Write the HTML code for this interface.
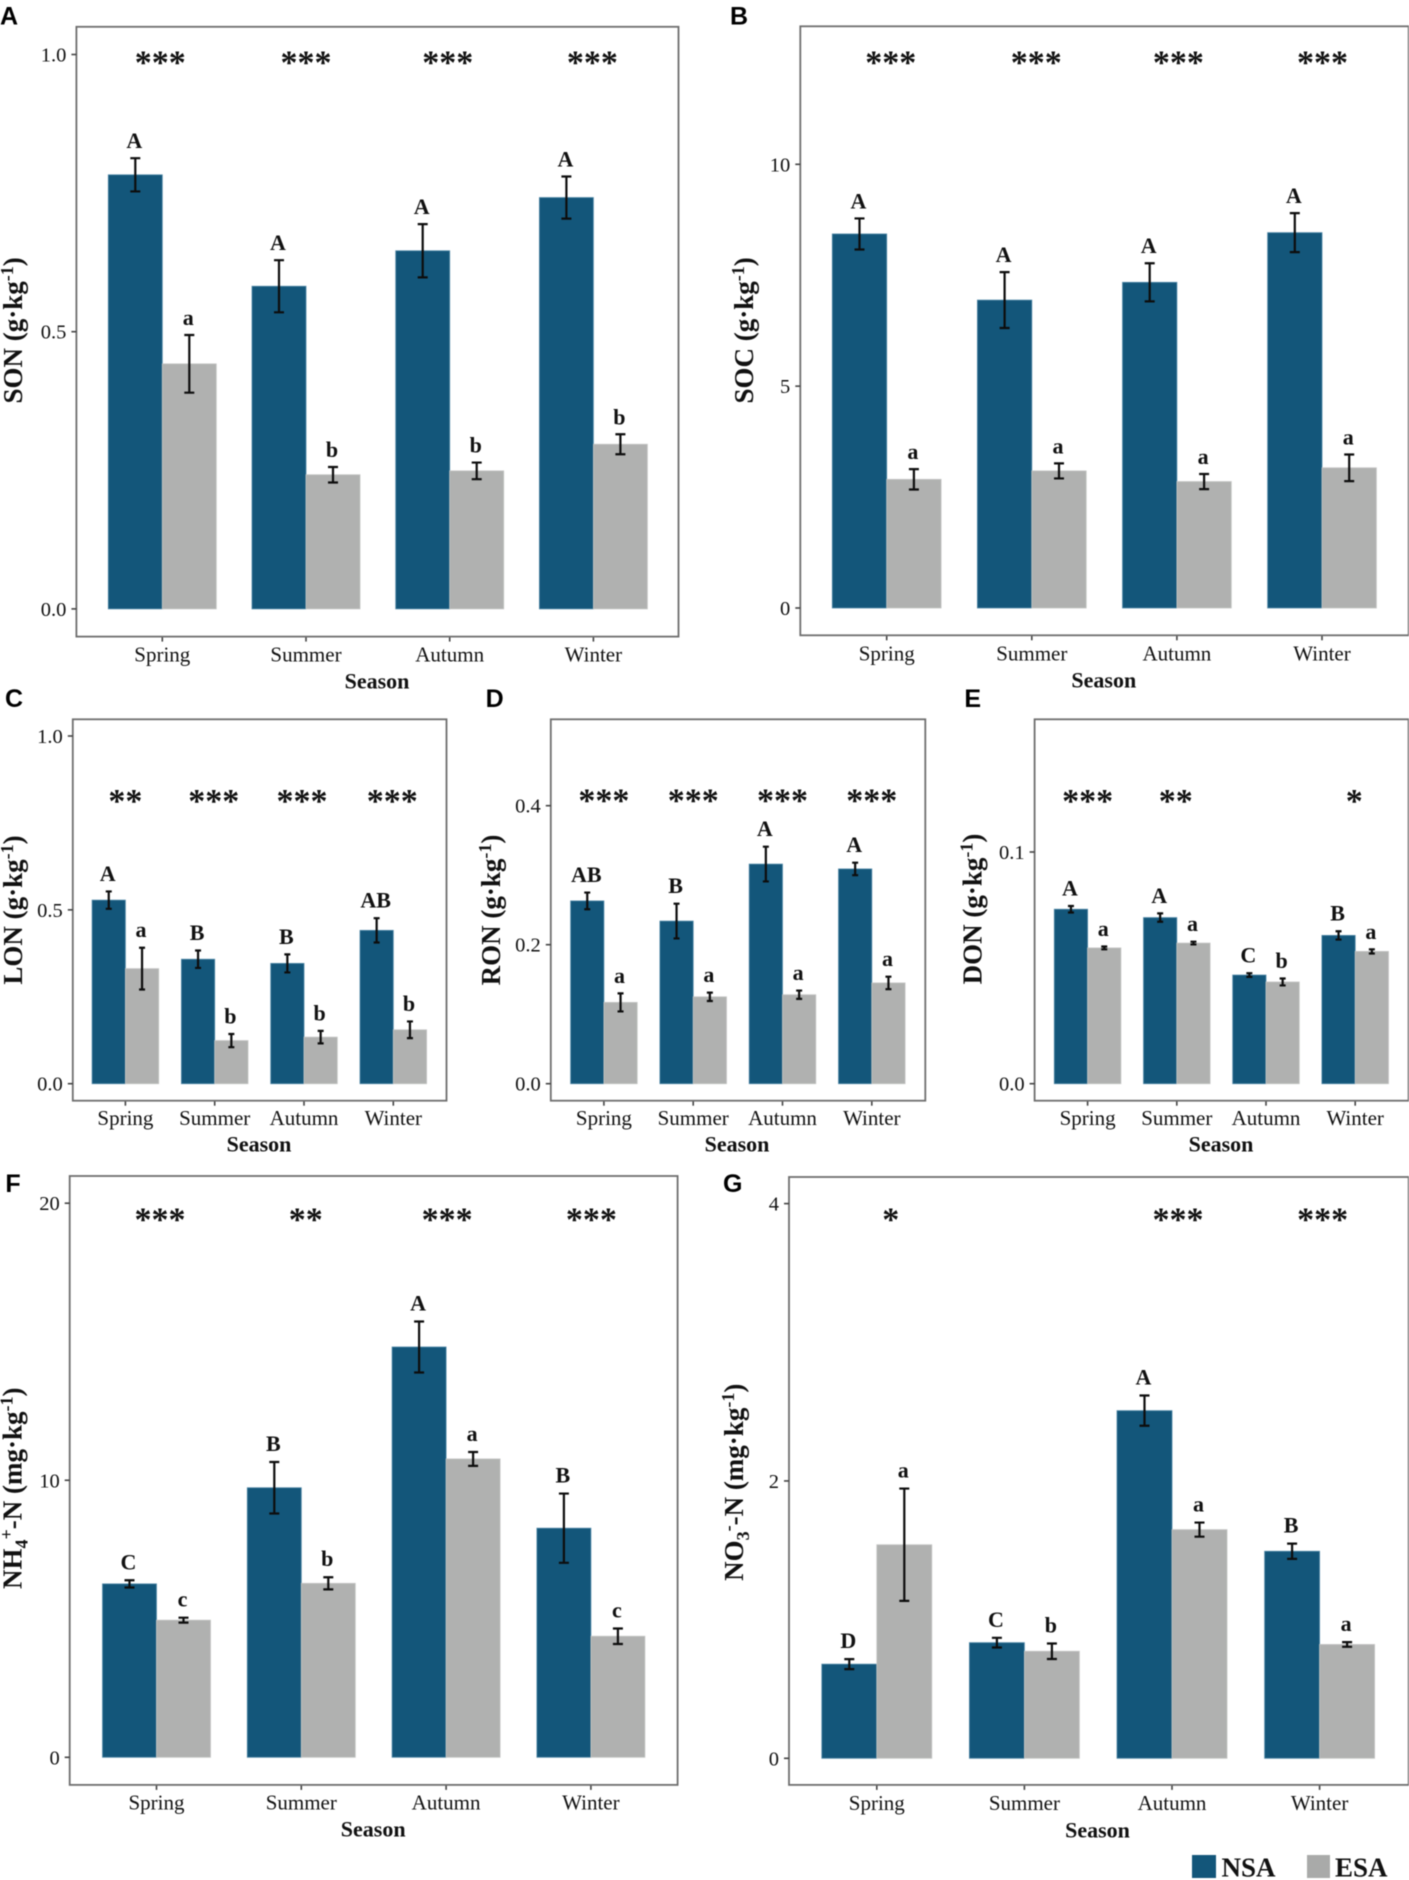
<!DOCTYPE html>
<html lang="en">
<head>
<meta charset="utf-8">
<title>Soil nitrogen and carbon by season</title>
<style>
html,body{margin:0;padding:0;background:#fff;}
body{width:1409px;height:1880px;overflow:hidden;}
svg{display:block;filter:blur(0.45px);}
text{font-family:"Liberation Serif",serif;fill:#111;}
.tag{font-family:"Liberation Sans",sans-serif;font-weight:700;font-size:25px;fill:#000;}
</style>
</head>
<body>
<svg id="figure" xmlns="http://www.w3.org/2000/svg" width="1409" height="1880" viewBox="0 0 1409 1880">
  <g id="panels"></g>
  <g>
    <rect x="1192" y="1855" width="24" height="23" fill="#13567a"/>
    <text x="1221.5" y="1876.5" font-size="27" font-weight="700">NSA</text>
    <rect x="1307" y="1855" width="23" height="23" fill="#a9aaa9"/>
    <text x="1335" y="1876.5" font-size="27" font-weight="700">ESA</text>
  </g>
</svg>
<script>
const categories = ['Spring', 'Summer', 'Autumn', 'Winter'];

const sonTicks = [0, 0.5, 1.0];
const sonTickLabels = ['0.0', '0.5', '1.0'];
const sonNSA = [0.783, 0.582, 0.646, 0.742];
const sonESA = [0.442, 0.242, 0.249, 0.297];
const sonNSAErr = [0.030, 0.047, 0.048, 0.038];
const sonESAErr = [0.052, 0.014, 0.015, 0.018];
const sonNSALetters = ['A', 'A', 'A', 'A'];
const sonESALetters = ['a', 'b', 'b', 'b'];
const sonStars = ['***', '***', '***', '***'];

const socTicks = [0, 5, 10];
const socTickLabels = ['0', '5', '10'];
const socNSA = [8.43, 6.94, 7.34, 8.46];
const socESA = [2.90, 3.09, 2.85, 3.16];
const socNSAErr = [0.35, 0.63, 0.43, 0.44];
const socESAErr = [0.23, 0.17, 0.17, 0.30];
const socNSALetters = ['A', 'A', 'A', 'A'];
const socESALetters = ['a', 'a', 'a', 'a'];
const socStars = ['***', '***', '***', '***'];

const lonTicks = [0, 0.5, 1.0];
const lonTickLabels = ['0.0', '0.5', '1.0'];
const lonNSA = [0.528, 0.358, 0.346, 0.441];
const lonESA = [0.331, 0.124, 0.134, 0.155];
const lonNSAErr = [0.025, 0.025, 0.026, 0.035];
const lonESAErr = [0.060, 0.019, 0.018, 0.024];
const lonNSALetters = ['A', 'B', 'B', 'AB'];
const lonESALetters = ['a', 'b', 'b', 'b'];
const lonStars = ['**', '***', '***', '***'];

const ronTicks = [0, 0.2, 0.4];
const ronTickLabels = ['0.0', '0.2', '0.4'];
const ronNSA = [0.263, 0.234, 0.316, 0.309];
const ronESA = [0.117, 0.125, 0.128, 0.145];
const ronNSAErr = [0.012, 0.025, 0.025, 0.009];
const ronESAErr = [0.013, 0.006, 0.006, 0.009];
const ronNSALetters = ['AB', 'B', 'A', 'A'];
const ronESALetters = ['a', 'a', 'a', 'a'];
const ronStars = ['***', '***', '***', '***'];

const donTicks = [0, 0.1];
const donTickLabels = ['0.0', '0.1'];
const donNSA = [0.0753, 0.0717, 0.0469, 0.0640];
const donESA = [0.0586, 0.0607, 0.0439, 0.0571];
const donNSAErr = [0.0014, 0.0018, 0.0008, 0.0018];
const donESAErr = [0.0006, 0.0006, 0.0015, 0.0009];
const donNSALetters = ['A', 'A', 'C', 'B'];
const donESALetters = ['a', 'a', 'b', 'a'];
const donStars = ['***', '**', '', '*'];

const nhTicks = [0, 10, 20];
const nhTickLabels = ['0', '10', '20'];
const nhNSA = [6.26, 9.73, 14.81, 8.27];
const nhESA = [4.95, 6.28, 10.77, 4.37];
const nhNSAErr = [0.13, 0.93, 0.92, 1.25];
const nhESAErr = [0.09, 0.22, 0.25, 0.28];
const nhNSALetters = ['C', 'B', 'A', 'B'];
const nhESALetters = ['c', 'b', 'a', 'c'];
const nhStars = ['***', '**', '***', '***'];

const noTicks = [0, 2, 4];
const noTickLabels = ['0', '2', '4'];
const noNSA = [0.679, 0.834, 2.507, 1.493];
const noESA = [1.54, 0.772, 1.649, 0.821];
const noNSAErr = [0.036, 0.035, 0.109, 0.055];
const noESAErr = [0.405, 0.056, 0.051, 0.017];
const noNSALetters = ['D', 'C', 'A', 'B'];
const noESALetters = ['a', 'b', 'a', 'a'];
const noStars = ['*', '', '***', '***'];

const panels = [
  {id:'son', tag:'A', tagX:0, tagY:24.6, frame:[76.4,26.8,678.5,636.6], yZero:608.9, yRef:54.5, refVal:1.0,
   first:162.3, step:143.7, bw:54, cap:5, gap:10, starY:58, starDx:[-2,0,-2,-1],
   tickY:661.6, seasonY:688.4, seasonX:377, titleX:22, titleY:330.4,
   title:[['SON (g·kg',0],['-1',1],[')',0]], ticks:sonTicks, labels:sonTickLabels,
   nsa:sonNSA, esa:sonESA, nsaErr:sonNSAErr, esaErr:sonESAErr, nl:sonNSALetters, el:sonESALetters, stars:sonStars},
  {id:'soc', tag:'B', tagX:730, tagY:24.6, frame:[800.3,26.3,1408.7,635.3], yZero:608, yRef:164.3, refVal:10,
   first:886.7, step:145.1, bw:54.4, cap:5, gap:10, starY:58, starDx:[4,4.5,1.5,0.5],
   tickY:660.7, seasonY:687.5, seasonX:1103.8, titleX:753, titleY:330.4,
   title:[['SOC (g·kg',0],['-1',1],[')',0]], ticks:socTicks, labels:socTickLabels,
   nsa:socNSA, esa:socESA, nsaErr:socNSAErr, esaErr:socESAErr, nl:socNSALetters, el:socESALetters, stars:socStars},
  {id:'lon', tag:'C', tagX:5, tagY:707, frame:[72.8,719.3,446.5,1100.7], yZero:1083.7, yRef:736, refVal:1.0,
   first:125.4, step:89.3, bw:33.3, cap:3, gap:10.5, starY:796.7, starDx:[0,-1,-2,-1],
   tickY:1125, seasonY:1151.7, seasonX:259, titleX:22, titleY:910,
   title:[['LON (g·kg',0],['-1',1],[')',0]], ticks:lonTicks, labels:lonTickLabels,
   nsa:lonNSA, esa:lonESA, nsaErr:lonNSAErr, esaErr:lonESAErr, nl:lonNSALetters, el:lonESALetters, stars:lonStars},
  {id:'ron', tag:'D', tagX:485.6, tagY:707, frame:[550.8,719.3,925.3,1100.7], yZero:1083.7, yRef:805.7, refVal:0.4,
   first:603.9, step:89.3, bw:33.3, cap:3, gap:10.5, starY:796, starDx:[0,0,0,0],
   tickY:1125, seasonY:1151.7, seasonX:737, titleX:500, titleY:910,
   title:[['RON (g·kg',0],['-1',1],[')',0]], ticks:ronTicks, labels:ronTickLabels,
   nsa:ronNSA, esa:ronESA, nsaErr:ronNSAErr, esaErr:ronESAErr, nl:ronNSALetters, el:ronESALetters, stars:ronStars},
  {id:'don', tag:'E', tagX:964.4, tagY:707, frame:[1034.6,719.3,1408.6,1100.7], yZero:1083.7, yRef:852, refVal:0.1,
   first:1087.6, step:89.2, bw:33.3, cap:3, gap:10.5, starY:796.7, starDx:[0,-1,0,-1],
   tickY:1125, seasonY:1151.7, seasonX:1221, titleX:981.5, titleY:909,
   title:[['DON (g·kg',0],['-1',1],[')',0]], ticks:donTicks, labels:donTickLabels,
   nsa:donNSA, esa:donESA, nsaErr:donNSAErr, esaErr:donESAErr, nl:donNSALetters, el:donESALetters, stars:donStars},
  {id:'nh', tag:'F', tagX:5.4, tagY:1192, frame:[69.7,1176,677.6,1784.9], yZero:1757.3, yRef:1203.2, refVal:20,
   first:156.5, step:144.8, bw:54, cap:5, gap:11, starY:1215, starDx:[3.5,4.5,1,0.5],
   tickY:1809.7, seasonY:1836.3, seasonX:373.2, titleX:21.6, titleY:1488.3,
   title:[['NH',0],['4',-1],['+',1],['-N (mg·kg',0],['-1',1],[')',0]], ticks:nhTicks, labels:nhTickLabels,
   nsa:nhNSA, esa:nhESA, nsaErr:nhNSAErr, esaErr:nhESAErr, nl:nhNSALetters, el:nhESALetters, stars:nhStars},
  {id:'no', tag:'G', tagX:723, tagY:1192, frame:[789,1177,1408.7,1784.9], yZero:1758.3, yRef:1203.6, refVal:4,
   first:876.8, step:147.6, bw:55, cap:5, gap:11, starY:1215, starDx:[14,0,6,3],
   tickY:1810, seasonY:1837.7, seasonX:1097.5, titleX:743, titleY:1482.3,
   title:[['NO',0],['3',-1],['-',1],['-N (mg·kg',0],['-1',1],[')',0]], ticks:noTicks, labels:noTickLabels,
   nsa:noNSA, esa:noESA, nsaErr:noNSAErr, esaErr:noESAErr, nl:noNSALetters, el:noESALetters, stars:noStars}
];

const NS = 'http://www.w3.org/2000/svg';
const root = document.getElementById('panels');

function make(tag, parent, attrs) {
  const node = document.createElementNS(NS, tag);
  for (const k in attrs) node.setAttribute(k, attrs[k]);
  parent.appendChild(node);
  return node;
}
function label(parent, x, y, str, size, bold, anchor) {
  const t = make('text', parent, {
    x: x, y: y, 'font-size': size, 'font-weight': bold ? 700 : 400, 'text-anchor': anchor
  });
  t.textContent = str;
  return t;
}

panels.forEach(function (p) {
  const yScale = function (v) { return p.yZero - (v / p.refVal) * (p.yZero - p.yRef); };
  const xScale = function (i) { return p.first + i * p.step; };
  const [fx0, fy0, fx1, fy1] = p.frame;

  const g = make('g', root, {});
  
  

  const tag = make('text', g, {class: 'tag', x: p.tagX, y: p.tagY});
  tag.textContent = p.tag;
  
  

  categories.forEach(function (cat, i) {
    const cx = xScale(i);
    const seriesList = [
      {key: 'nsa', vals: p.nsa, errs: p.nsaErr, letters: p.nl, fill: '#13567a', edge: '#4f87a6', x: cx - p.bw, lx: cx - p.bw / 2 - 1},
      {key: 'esa', vals: p.esa, errs: p.esaErr, letters: p.el, fill: '#b0b1b0', edge: '#c4c5c4', x: cx, lx: cx + p.bw / 2 - 1}
    ];
    seriesList.forEach(function (s) {
      const v = s.vals[i], e = s.errs[i];
      const top = yScale(v);
      const bar = make('rect', g, {x: s.x, y: top, width: p.bw, height: yScale(0) - top, fill: s.fill, stroke: s.edge, 'stroke-width': 0.8});
      
      
    });
    seriesList.forEach(function (s) {
      const v = s.vals[i], e = s.errs[i];
      const mid = s.x + p.bw / 2;
      const hi = yScale(v + e), lo = yScale(v - e);
      const err = make('path', g, {
        d: 'M' + (mid - p.cap) + ' ' + hi + 'H' + (mid + p.cap) + 'M' + mid + ' ' + hi + 'V' + lo + 'M' + (mid - p.cap) + ' ' + lo + 'H' + (mid + p.cap),
        fill: 'none', stroke: '#0d0d0d', 'stroke-width': 2.2
      });
      
      

      const letter = label(g, s.lx, hi - p.gap, s.letters[i], 22, true, 'middle');
      
      
    });

    if (p.stars[i]) {
      const star = label(g, cx + p.starDx[i], p.starY + 15.5, p.stars[i], 34, true, 'middle');
      
      
    }

    const tick = make('line', g, {x1: cx, x2: cx, y1: fy1, y2: fy1 + 5, stroke: '#444', 'stroke-width': 1.6});
    
    

    const cl = label(g, cx, p.tickY, cat, 21, false, 'middle');
    
    
  });

  const frame = make('rect', g, {x: fx0, y: fy0, width: fx1 - fx0, height: fy1 - fy0, fill: 'none', stroke: '#6e6e6e', 'stroke-width': 1.8});
  
  

  p.ticks.forEach(function (t, i) {
    const y = yScale(t);
    const tick = make('line', g, {x1: fx0 - 5, x2: fx0, y1: y, y2: y, stroke: '#444', 'stroke-width': 1.6});
    
    

    const tl = label(g, fx0 - 10, y + 7, p.labels[i], 20.5, false, 'end');
    
    
  });

  const season = label(g, p.seasonX, p.seasonY, 'Season', 22, true, 'middle');
  
  

  const title = make('text', g, {
    transform: 'translate(' + p.titleX + ',' + p.titleY + ') rotate(-90)',
    'font-size': 27, 'font-weight': 700, 'text-anchor': 'middle'
  });
  
  
  let prevShift = 0;
  p.title.forEach(function (seg) {
    const shift = seg[1];
    const px = shift === 1 ? -9 : (shift === -1 ? 6 : 0);
    const span = make('tspan', title, {dy: px - prevShift, 'font-size': shift ? 18 : 27});
    span.textContent = seg[0];
    prevShift = px;
  });
});
</script>
</body>
</html>
